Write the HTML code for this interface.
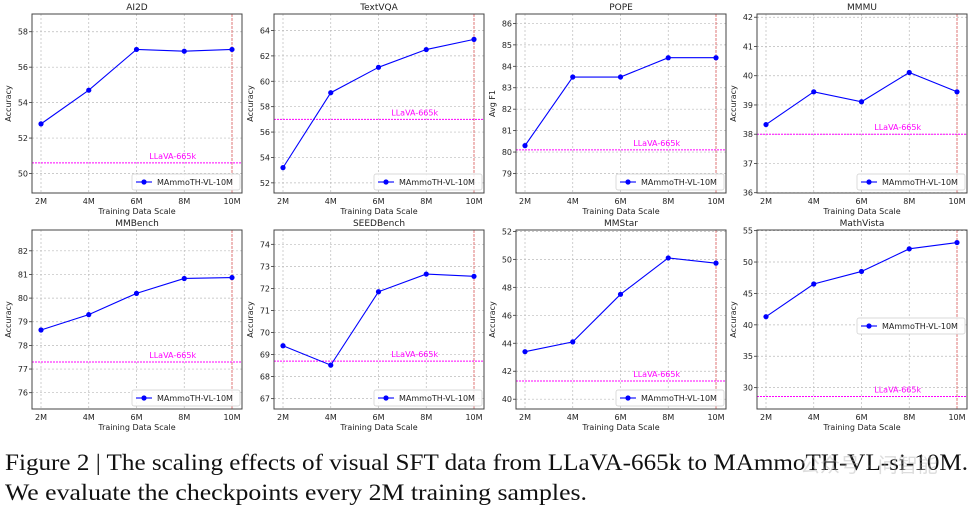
<!DOCTYPE html>
<html><head><meta charset="utf-8">
<style>
html,body{margin:0;padding:0;background:#fff;}
svg{display:block;}
</style></head>
<body>
<svg id="fig" width="978" height="507" viewBox="0 0 978 507" xmlns="http://www.w3.org/2000/svg">
  <g id="panels"></g>
  <text x="5" y="470" font-family="'Liberation Serif', serif" font-size="23" textLength="963" lengthAdjust="spacingAndGlyphs" fill="#111">Figure 2 | The scaling effects of visual SFT data from LLaVA-665k to MAmmoTH-VL-si-10M.</text>
  <text x="5" y="500" font-family="'Liberation Serif', serif" font-size="23" textLength="582" lengthAdjust="spacingAndGlyphs" fill="#111">We evaluate the checkpoints every 2M training samples.</text>
  <text x="800" y="472" font-family="'Liberation Sans','Noto Sans CJK SC',sans-serif" font-size="20" fill="#aaa" fill-opacity="0.4">公众号 · 问智能</text>
</svg>
<script>
const categories = ["2M","4M","6M","8M","10M"];
const titles = ["AI2D","TextVQA","POPE","MMMU","MMBench","SEEDBench","MMStar","MathVista"];
const yLabels = ["Accuracy","Accuracy","Avg F1","Accuracy","Accuracy","Accuracy","Accuracy","Accuracy"];
const seriesAI2D = [52.8,54.7,57.0,56.9,57.0];
const seriesTextVQA = [53.2,59.1,61.1,62.5,63.3];
const seriesPOPE = [80.3,83.5,83.5,84.4,84.4];
const seriesMMMU = [38.33,39.45,39.11,40.11,39.45];
const seriesMMBench = [78.65,79.3,80.2,80.83,80.87];
const seriesSEED = [69.4,68.52,71.85,72.65,72.55];
const seriesMMStar = [43.4,44.1,47.5,50.1,49.73];
const seriesMathVista = [41.3,46.5,48.5,52.1,53.1];
const baselines = [50.6,57.0,80.1,38.0,77.3,68.7,41.3,28.6];
const yMins = [48.9,51.2,78.09,35.99,75.31,66.53,39.3,26.6];
const yMaxs = [59.0,65.3,86.44,42.11,82.88,74.65,52.1,55.1];
const yTicks = [[50,52,54,56,58],[52,54,56,58,60,62,64],[79,80,81,82,83,84,85,86],[36,37,38,39,40,41,42],[76,77,78,79,80,81,82],[67,68,69,70,71,72,73,74],[40,42,44,46,48,50,52],[30,35,40,45,50,55]];
const seriesName = "MAmmoTH-VL-10M";
const baselineName = "LLaVA-665k";

const allSeries=[seriesAI2D,seriesTextVQA,seriesPOPE,seriesMMMU,seriesMMBench,seriesSEED,seriesMMStar,seriesMathVista];
const NS="http://www.w3.org/2000/svg";
const root=document.getElementById('panels');
const FONT="'DejaVu Sans','Liberation Sans',sans-serif";
function mk(tag,attrs,parent){const e=document.createElementNS(NS,tag);for(const k in attrs)e.setAttribute(k,attrs[k]);(parent||root).appendChild(e);return e;}
const lefts=[32,274,516,757], tops=[14,230], W=210, H=179;
for(let p=0;p<8;p++){
  const L=lefts[p%4], T=tops[Math.floor(p/4)], R=L+W, B=T+H;
  const g=mk('g',{});
  
  
  const xs=i=>L+9+i*(W-19)/(categories.length-1);
  const ys=v=>B-(v-yMins[p])/(yMaxs[p]-yMins[p])*H;
  categories.forEach((c,i)=>{
    const gl=mk('line',{x1:xs(i),x2:xs(i),y1:T,y2:B,stroke:'#bbb','stroke-width':0.7,'stroke-dasharray':'2,2'},g);
    
    
    const t=mk('text',{x:xs(i),y:B+11,'font-size':8,'font-family':FONT,'text-anchor':'middle',fill:'#222'},g);
    t.textContent=c;
    
    
  });
  yTicks[p].forEach(v=>{
    const gl=mk('line',{x1:L,x2:R,y1:ys(v),y2:ys(v),stroke:'#bbb','stroke-width':0.7,'stroke-dasharray':'2,2'},g);
    
    
    mk('line',{x1:L-3,x2:L,y1:ys(v),y2:ys(v),stroke:'#333','stroke-width':0.8},g);
    const t=mk('text',{x:L-4,y:ys(v)+3,'font-size':8,'font-family':FONT,'text-anchor':'end',fill:'#222'},g);
    t.textContent=v;
    
    
  });
  const rv=mk('line',{x1:xs(categories.length-1),x2:xs(categories.length-1),y1:T,y2:B,stroke:'#e06060','stroke-width':0.8,'stroke-dasharray':'3,1'},g);
  
  
  const by=ys(baselines[p]);
  const bl=mk('line',{x1:L,x2:R,y1:by,y2:by,stroke:'#ff00ff','stroke-width':1,'stroke-dasharray':'2,1'},g);
  
  
  const bt=mk('text',{x:L+W*0.67,y:by-4,'font-size':8,'font-family':FONT,'text-anchor':'middle',fill:'#ff00ff'},g);
  bt.textContent=baselineName;
  
  
  const d=allSeries[p];
  const pts=d.map((v,i)=>xs(i)+','+ys(v)).join(' ');
  const pl=mk('polyline',{points:pts,fill:'none',stroke:'#0000ff','stroke-width':1.1},g);
  
  
  d.forEach((v,i)=>{
    const c=mk('circle',{cx:xs(i),cy:ys(v),r:2.6,fill:'#0000ff'},g);
    
    
  });
  const fr=mk('rect',{x:L,y:T,width:W,height:H,fill:'none',stroke:'#444','stroke-width':1},g);
  
  
  const tt=mk('text',{x:L+W/2,y:T-4,'font-size':9,'font-family':FONT,'text-anchor':'middle',fill:'#222'},g);
  tt.textContent=titles[p];
  
  
  const xl=mk('text',{x:L+W/2,y:B+21,'font-size':8,'font-family':FONT,'text-anchor':'middle',fill:'#222'},g);
  xl.textContent='Training Data Scale';
  
  
  const yl=mk('text',{x:0,y:0,'font-size':8,'font-family':FONT,'text-anchor':'middle',fill:'#222',transform:'translate('+(L-21)+','+(T+H/2)+') rotate(-90)'},g);
  yl.textContent=yLabels[p];
  
  
  const lw=108, lh=16;
  const lx=R-lw-2, ly=(p===7)?T+88:B-lh-3;
  const lg=mk('g',{},g);
  
  
  mk('rect',{x:lx,y:ly,width:lw,height:lh,rx:2,fill:'#fff','fill-opacity':0.85,stroke:'#ccc','stroke-width':0.7},lg);
  mk('line',{x1:lx+4,x2:lx+20,y1:ly+lh/2,y2:ly+lh/2,stroke:'#0000ff','stroke-width':1.1},lg);
  mk('circle',{cx:lx+12,cy:ly+lh/2,r:2.6,fill:'#0000ff'},lg);
  const lt=mk('text',{x:lx+25,y:ly+lh/2+3,'font-size':8,'font-family':FONT,fill:'#222'},lg);
  lt.textContent=seriesName;
  
  
}
</script>
</body></html>
